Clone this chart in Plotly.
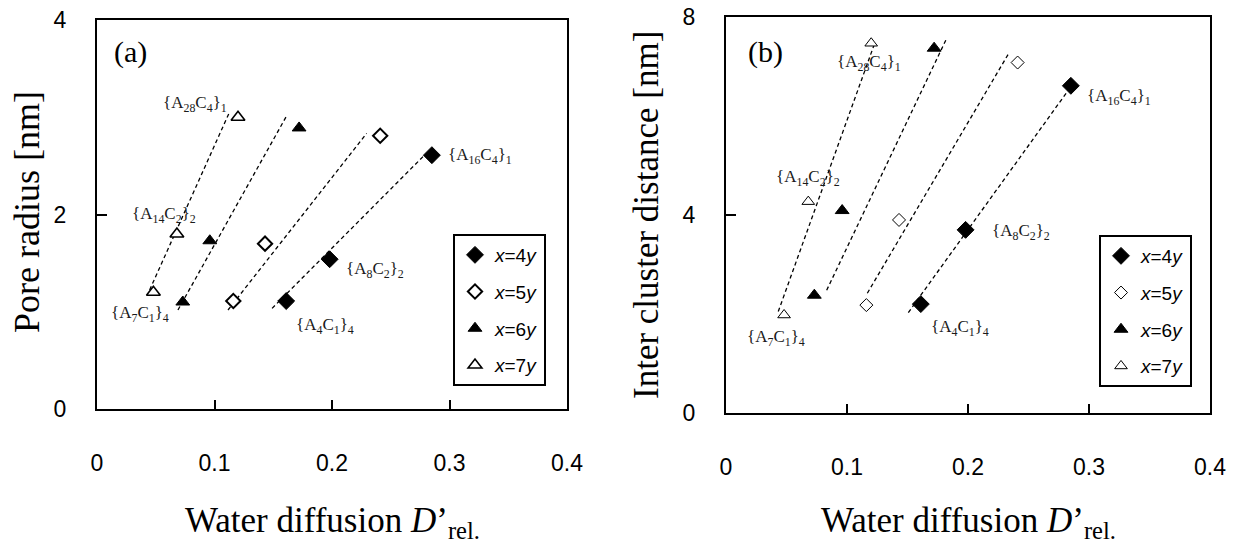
import plotly.graph_objects as go

W, H = 1245, 553

# ---------------- data ----------------
series_names = ["<i>x</i>=4<i>y</i>", "<i>x</i>=5<i>y</i>", "<i>x</i>=6<i>y</i>", "<i>x</i>=7<i>y</i>"]

# water diffusion D'rel. (shared by both panels)
d_x4 = [0.161, 0.198, 0.285]
d_x5 = [0.116, 0.143, 0.241]
d_x6 = [0.073, 0.096, 0.172]
d_x7 = [0.048, 0.068, 0.120]

# (a) pore radius [nm]
pore_x4 = [1.11, 1.54, 2.61]
pore_x5 = [1.11, 1.70, 2.81]
pore_x6 = [1.10, 1.73, 2.89]
pore_x7 = [1.20, 1.80, 3.00]

# (b) inter cluster distance [nm]
dist_x4 = [2.20, 3.70, 6.61]
dist_x5 = [2.18, 3.90, 7.08]
dist_x6 = [2.38, 4.09, 7.37]
dist_x7 = [1.98, 4.27, 7.47]

# dashed trend lines (end points)
trend_a_x = [[0.149, 0.278], [0.1115, 0.2295], [0.0689, 0.1618], [0.0448, 0.1123]]
trend_a_y = [[1.035, 2.602], [1.018, 2.835], [1.018, 3.023], [1.224, 3.040]]
trend_b_x = [[0.1507, 0.287], [0.1168, 0.2333], [0.0832, 0.1824], [0.0432, 0.1223]]
trend_b_y = [[2.03, 6.66], [2.42, 7.25], [2.48, 7.57], [2.05, 7.43]]

# point labels: (text, series index, point index)
point_labels = [
    ("{A<sub>28</sub>C<sub>4</sub>}<sub>1</sub>", 3, 2),
    ("{A<sub>14</sub>C<sub>2</sub>}<sub>2</sub>", 3, 1),
    ("{A<sub>7</sub>C<sub>1</sub>}<sub>4</sub>", 3, 0),
    ("{A<sub>16</sub>C<sub>4</sub>}<sub>1</sub>", 0, 2),
    ("{A<sub>8</sub>C<sub>2</sub>}<sub>2</sub>", 0, 1),
    ("{A<sub>4</sub>C<sub>1</sub>}<sub>4</sub>", 0, 0),
]
x_ticks = [0, 0.1, 0.2, 0.3, 0.4]
x_tick_text = ["0", "0.1", "0.2", "0.3", "0.4"]

# ---------------- styles ----------------
label_shift_a = [(-43, 13), (-13, 19), (-13, -22), (48, -1), (45, -11), (39, -25)]
label_shift_b = [(-2, -20), (0, 24), (-8, -23), (48, -11), (55, -2), (39, -24)]

sym = ["diamond", "diamond", "triangle-up", "triangle-up"]
fill = ["black", "white", "black", "white"]
size_a = [13, 11, 12, 12]
size_b = [13, 10, 12, 11]
lw_a = [1, 2, 1, 1.6]
lw_b = [1, 1, 1, 1]

D = [d_x4, d_x5, d_x6, d_x7]
PORE = [pore_x4, pore_x5, pore_x6, pore_x7]
DIST = [dist_x4, dist_x5, dist_x6, dist_x7]

fig = go.Figure()

for i in range(4):
    fig.add_trace(go.Scatter(x=trend_a_x[i], y=trend_a_y[i], mode="lines",
                             line=dict(color="black", width=1.3, dash="4px,3px"),
                             showlegend=False, xaxis="x", yaxis="y", hoverinfo="skip"))
    fig.add_trace(go.Scatter(x=trend_b_x[i], y=trend_b_y[i], mode="lines",
                             line=dict(color="black", width=1.3, dash="4px,3px"),
                             showlegend=False, xaxis="x2", yaxis="y2", hoverinfo="skip"))

for i in range(4):
    fig.add_trace(go.Scatter(x=D[i], y=PORE[i], mode="markers", name=series_names[i],
                             marker=dict(symbol=sym[i], size=size_a[i], color=fill[i],
                                         line=dict(color="black", width=lw_a[i])),
                             xaxis="x", yaxis="y", legend="legend", legendgroup=f"a{i}"))
    fig.add_trace(go.Scatter(x=D[i], y=DIST[i], mode="markers", name=series_names[i],
                             marker=dict(symbol=sym[i], size=size_b[i], color=fill[i],
                                         line=dict(color="black", width=lw_b[i])),
                             xaxis="x2", yaxis="y2", legend="legend2", legendgroup=f"b{i}"))

annotations = []
for (txt, s, p), (dx, dy) in zip(point_labels, label_shift_a):
    annotations.append(dict(x=D[s][p], y=PORE[s][p], xref="x", yref="y", text=txt,
                            showarrow=False, xshift=dx, yshift=dy,
                            font=dict(family="Liberation Serif", size=17, color="#1a1a1a")))
for (txt, s, p), (dx, dy) in zip(point_labels, label_shift_b):
    annotations.append(dict(x=D[s][p], y=DIST[s][p], xref="x2", yref="y2", text=txt,
                            showarrow=False, xshift=dx, yshift=dy,
                            font=dict(family="Liberation Serif", size=17, color="#1a1a1a")))

def paper_text(px, py, text, size, angle=0):
    return dict(x=px / W, y=1 - py / H, xref="paper", yref="paper", text=text,
                showarrow=False, xanchor="center", yanchor="middle", textangle=angle,
                font=dict(family="Liberation Serif", size=size, color="black"))

annotations += [
    paper_text(130, 52, "(a)", 30),
    paper_text(765, 52, "(b)", 30),
    paper_text(27, 212, "Pore radius [nm]", 36, -90),
    paper_text(646, 215, "Inter cluster distance [nm]", 35, -90),
    paper_text(332, 522, "Water diffusion <i>D</i>’<sub>rel.</sub>", 35),
    paper_text(968, 522, "Water diffusion <i>D</i>’<sub>rel.</sub>", 35),
]

tickfont = dict(family="Liberation Sans", size=23, color="black")
common_x = dict(range=[0, 0.4], tickvals=x_ticks, ticktext=x_tick_text, showline=True,
                linecolor="black", linewidth=2, mirror=True, ticks="inside", ticklen=9,
                tickwidth=2, tickcolor="black", showgrid=False, zeroline=False,
                tickfont=tickfont, ticklabelstandoff=32, automargin=False)
common_y = dict(showline=True, linecolor="black", linewidth=2, mirror=True, ticks="inside",
                ticklen=10, tickwidth=2, tickcolor="black", showgrid=False, zeroline=False,
                tickfont=tickfont, ticklabelstandoff=24, automargin=False)

legend_style = dict(bgcolor="white", bordercolor="black", borderwidth=2,
                    font=dict(family="Liberation Sans", size=19, color="black"),
                    tracegroupgap=9, xanchor="left", yanchor="top", itemwidth=30)

fig.update_layout(
    width=W, height=H, margin=dict(l=0, r=0, t=0, b=0, autoexpand=False),
    paper_bgcolor="white", plot_bgcolor="white",
    xaxis=dict(domain=[97 / W, 567 / W], anchor="y", **common_x),
    yaxis=dict(domain=[1 - 409 / H, 1 - 20 / H], anchor="x", range=[0, 4],
               tickvals=[0, 2, 4], **common_y),
    xaxis2=dict(domain=[726 / W, 1210 / W], anchor="y2", **common_x),
    yaxis2=dict(domain=[1 - 413 / H, 1 - 17 / H], anchor="x2", range=[0, 8],
                tickvals=[0, 4, 8], **common_y),
    legend=dict(x=453 / W, y=1 - 234 / H, **legend_style),
    legend2=dict(x=1099 / W, y=1 - 235 / H, **legend_style),
    annotations=annotations,
    showlegend=True,
)

fig.write_html("out.html", config={"displayModeBar": False},
               post_script="document.body.style.margin='0px';document.body.style.padding='0px';")
